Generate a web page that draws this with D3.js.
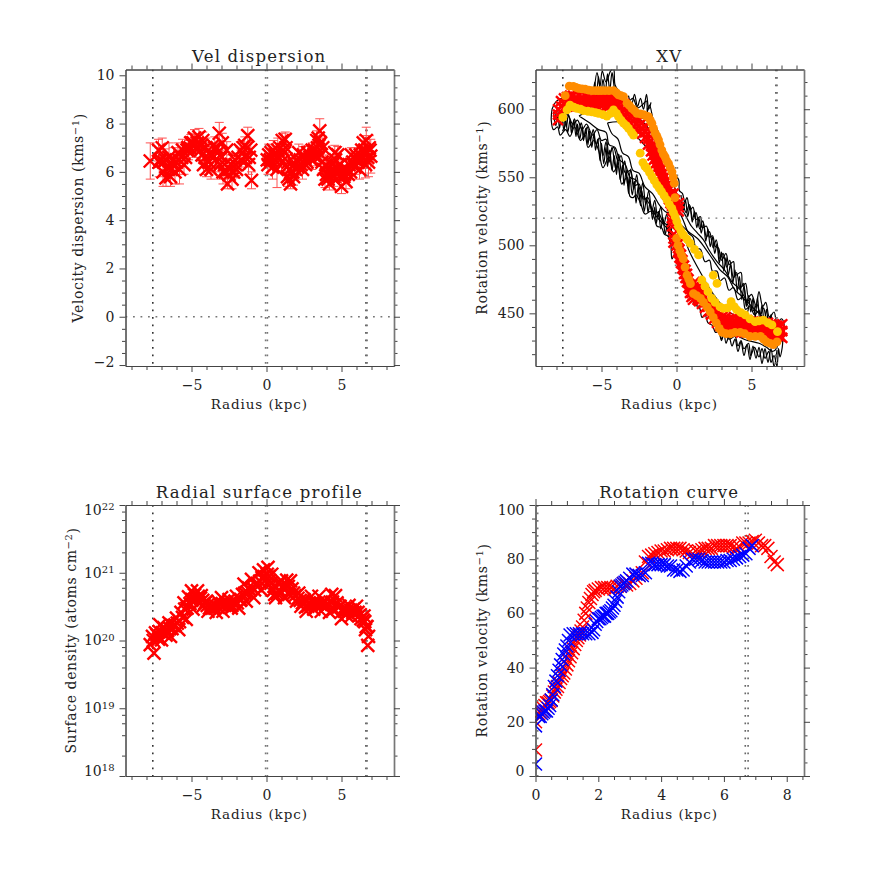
<!DOCTYPE html>
<html>
<head>
<meta charset="utf-8">
<script src="https://cdn.jsdelivr.net/npm/d3@7"></script>
<style>
  html, body { margin: 0; background: #fff; }
  text { font-family: "DejaVu Serif", serif; fill: #222; }
  .tick line, .domain { stroke: #444; }
</style>
</head>
<body>
<svg width="872" height="872"></svg>
<script>
// vel dispersion
const dispRadius = [-7.75,-7.2,-7.15,-6.95,-6.9,-6.75,-6.7,-6.5,-6.4,-6.2,-6.1,-5.9,-5.8,-5.6,-5.5,-5.3,-5.2,-5.05,-5,-4.8,-4.7,-4.5,-4.4,-4.25,-4.2,-4.05,-4,-3.75,-3.7,-3.45,-3.4,-3.15,-3.1,-2.95,-2.9,-2.65,-2.6,-2.35,-2.3,-2.05,-2,-1.75,-1.7,-1.45,-1.4,-1.25,-1.2,-1.05,-1,
  0.1,0.15,0.4,0.45,0.7,0.75,1,1.05,1.2,1.25,1.4,1.45,1.6,1.65,1.8,1.85,2.1,2.15,2.4,2.45,2.7,2.75,3,3.05,3.3,3.35,3.5,3.55,3.7,3.75,3.9,3.95,4.2,4.25,4.5,4.55,4.7,4.75,5,5.05,5.3,5.35,5.6,5.65,5.9,5.95,6.2,6.25,6.4,6.45,6.6,6.65,6.8,6.85,6.95];
const dispValue = [6.45,6.9,6.4,7,6,6.5,5.75,6.6,5.8,6.5,6,6.8,6.1,6.9,6.3,6.9,6.9,7.2,7.2,7.4,7,7.45,6.9,7.3,6.3,7,6.1,6.7,6.1,7,6.5,7.6,6.3,7.2,6,6.9,5.5,6.3,5.7,6.3,6.1,6.9,6.5,7.1,6.6,7.5,6.3,6.9,5.65,
  6.3,6.7,6.2,6.9,6.1,6.9,6.4,7.3,6.8,7.35,5.8,6.4,5.5,6,5.8,6.3,6.2,6.8,6.1,6.7,6.4,6.8,6.5,6.9,6.6,7.3,7.1,7.7,6.4,7,5.7,6.3,5.5,6,5.8,6.8,6.2,6.7,5.4,6.1,5.6,6.1,6,6.7,6.2,6.7,6.1,6.7,6.6,7.2,6.3,7.3,6.4,7,6.65];
const dispError = [0.75,0.45,0.6,0.4,0.6,0.45,0.35,0.6,0.4,0.5,0.5,0.4,0.6,0.45,0.4,0.3,0.4,0.35,0.4,0.35,0.4,0.35,0.45,0.35,0.4,0.4,0.3,0.5,0.4,0.45,0.5,0.45,0.6,0.4,0.5,0.35,0.2,0.4,0.4,0.45,0.35,0.35,0.4,0.35,0.4,0.35,0.4,0.35,0.35,
  0.4,0.45,0.5,0.4,0.75,0.5,0.35,0.3,0.35,0.3,0.4,0.4,0.2,0.3,0.35,0.4,0.35,0.35,0.4,0.35,0.3,0.3,0.4,0.3,0.35,0.4,0.4,0.5,0.45,0.4,0.35,0.4,0.25,0.35,0.4,0.3,0.4,0.35,0.3,0.35,0.3,0.4,0.3,0.3,0.3,0.3,0.4,0.3,0.45,0.3,0.55,0.55,0.6,0.5,0.7];
const dispMidRadius = [-7.1,-6.85,-6.6,-6.35,-6.25,-6,-5.85,-5.65,-5.4,-5.25,-5.1,-4.9,-4.6,-4.35,-4.3,-4.1,-3.85,-3.6,-3.55,-3.3,-3.25,-3,-2.8,-2.75,-2.5,-2.45,-2.2,-2.1,-1.9,-1.6,-1.55,-1.3,-1.15,
  0.05,0.25,0.3,0.55,0.6,0.85,0.9,1.1,1.3,1.35,1.5,1.55,1.75,1.95,2,2.25,2.3,2.55,2.6,2.9,3.15,3.2,3.4,3.45,3.6,3.65,3.8,4,4.1,4.35,4.4,4.6,4.65,4.85,4.9,5.15,5.2,5.45,5.5,5.75,5.8,6.05,6.1,6.3,6.35,6.5,6.55,6.7,6.75,6.9];
const dispMidValue = [6.5,6.4,6.2,6.1,6.3,6.4,6.5,6.6,6.6,7,7,7.2,7.2,7.1,6.7,6.6,6.4,6.7,7.1,7,6.8,6.6,6.3,6,5.9,6.1,6,6.5,6.6,6.8,7,7,6.6,
  6.5,6.5,6.8,6.5,6.7,6.6,7,6.9,7,6.2,5.7,6.1,6,6.1,6.5,6.5,6.3,6.5,6.3,6.6,6.7,6.9,7,7.4,7.2,6.7,6.1,5.9,5.7,5.9,6.3,6.5,6,5.8,6.3,5.8,5.9,5.9,6.3,6.4,6.3,6.5,6.4,6.5,6.9,6.8,6.9,6.8,6.6,6.9];

// surface density, units of 1e20 atoms/cm2
const surfRadius = [-7.75,-7.6,-7.5,-7.4,-7.2,-7.1,-7,-6.85,-6.7,-6.5,-6.4,-6.2,-6,-5.85,-5.7,-5.5,-5.35,-5.2,-5,-4.9,-4.8,-4.6,-4.5,-4.35,-4.2,-4,-3.9,-3.7,-3.5,-3.35,-3.2,-3,-2.9,-2.7,-2.5,-2.35,-2.2,-2,-1.85,-1.7,-1.5,-1.35,-1.2,-1,-0.85,-0.7,-0.5,-0.35,-0.2,-0.1,
  0.1,0.2,0.35,0.5,0.6,0.75,0.9,1,1.2,1.35,1.5,1.6,1.8,2,2.15,2.3,2.5,2.65,2.85,3,3.15,3.3,3.5,3.65,3.85,4,4.2,4.35,4.5,4.6,4.8,5,5.15,5.3,5.5,5.65,5.8,6,6.15,6.3,6.5,6.6,6.7,6.75,6.8,
  -7.55,-7.3,-7.15,-6.95,-6.75,-6.6,-6.45,-6.3,-6.1,-5.95,-5.8,-5.6,-5.45,-5.3,-5.1,-4.95,-4.7,-4.55,-4.4,-4.25,-4.1,-3.95,-3.8,-3.6,-3.45,-3.25,-3.1,-2.95,-2.8,-2.6,-2.45,-2.3,-2.1,-1.95,-1.75,-1.6,-1.45,-1.3,-1.1,-0.95,-0.8,-0.6,-0.45,-0.3,-0.15,0.05,
  0.15,0.3,0.45,0.55,0.7,0.85,1.1,1.25,1.45,1.7,1.9,2.1,2.25,2.4,2.6,2.75,2.95,3.1,3.25,3.4,3.6,3.75,3.95,4.1,4.25,4.4,4.7,4.9,5.05,5.2,5.4,5.6,5.75,5.9,6.1,6.25,6.45,6.55,6.65];
const surfDensity = [0.87,1.15,0.65,1.3,1.05,1.7,1.02,1.55,1.2,1.82,1.15,1.65,2.14,1.45,2.6,3.6,2.05,4.4,5.4,2.9,4.7,5.4,3.63,4.6,3.3,3.8,2.7,3.3,3.4,2.6,3.7,4.3,2.7,3.5,4,3,3.6,4.5,3,4,6.8,3.8,6,8,4.3,6.5,10,5.6,11,7.6,
  12,7.8,9.5,6.3,4.3,7,5.4,7.6,4.3,7.8,4.8,7.6,5,3.8,5,3.2,4,2.7,3.6,4.5,2.9,3.5,4.5,2.7,3.8,3.2,2.6,4.8,2.9,4.6,3.1,2.1,3,2.4,3.3,2.3,2.9,3.2,2.3,2.1,2.3,1.45,1.6,0.85,1.15,
  1,1.2,1.35,1.3,1.4,1.4,1.5,1.5,1.7,1.8,1.9,2.2,2.9,3,3.5,4,4,4.5,4.2,3.9,3.6,3.3,3,3,3,3.1,3.4,3.5,3.3,3.2,3.4,3.3,3.8,3.6,3.9,4.8,5,5.2,5.5,6,5.6,7,7.5,8.5,8.8,9.5,
  8.8,7,5.5,4.8,5,5.5,6.4,6,6.3,5.8,4.6,4.2,3.9,3.6,3.1,3.2,3.4,3.6,3.6,3.5,3.4,3.4,3.3,3.5,3.7,3.7,3.6,3.2,2.7,2.7,2.8,2.8,2.6,2.6,2.6,2.4,2,1.9,1.6];

// rotation curve, receding and approaching side
const recRadius = [0,0,0.1,0.15,0.2,0.25,0.3,0.35,0.4,0.45,0.5,0.55,0.6,0.65,0.7,0.75,0.8,0.85,0.9,0.95,1,1.05,1.1,1.15,1.2,1.25,1.3,1.35,1.4,1.45,1.5,1.55,1.6,1.65,1.7,1.75,1.8,1.85,1.9,2,2.1,2.2,2.3,2.4,2.5,2.6,2.7,2.8,2.9,3,3.1,3.2,3.3,3.4,3.5,3.6,3.7,3.8,3.9,4,4.1,4.2,4.3,4.4,4.5,4.6,4.7,4.8,4.9,5,5.1,5.2,5.3,5.4,5.5,5.6,5.7,5.8,5.9,6,6.1,6.2,6.3,6.4,6.5,6.6,6.7,6.8,6.9,7,7.1,7.2,7.3,7.4,7.5,7.6,7.7];
const recSpeed = [9.6,20,23,23.5,24,25,26,27,27,27.5,28,29.5,31,32,33,34.5,36,37,38,39.5,41,42.5,44,45.5,47,48.5,50,51,52,53.5,55,57.5,60,62,64,65.5,67,68,68.5,69,69.5,69.5,69.5,69.5,69,70,70,71,70.5,71,72,73,74,75,79,81,81.5,82,82.5,83,83,83.5,84,84,84,84,83.5,83,82.5,82,83,83,83.5,84,84,84,85,85,85,85,85,85,84.5,84,84.5,86,86,86,86.5,87,86,85,85,84,81,79,78];
const appRadius = [0,0,0.1,0.15,0.2,0.25,0.3,0.35,0.4,0.45,0.5,0.55,0.6,0.65,0.7,0.75,0.8,0.85,0.9,0.95,1,1.05,1.1,1.2,1.3,1.4,1.5,1.6,1.7,1.8,1.85,1.9,1.95,2,2.05,2.1,2.15,2.2,2.25,2.3,2.35,2.4,2.45,2.5,2.55,2.6,2.65,2.7,2.75,2.8,2.85,2.9,3,3.1,3.2,3.3,3.4,3.5,3.6,3.7,3.8,3.9,4,4.1,4.2,4.3,4.4,4.5,4.6,4.7,4.8,4.9,5,5.1,5.2,5.3,5.4,5.5,5.6,5.7,5.8,5.9,6,6.1,6.2,6.3,6.4,6.5,6.6,6.7,6.8,6.9];
const appSpeed = [4.4,18.5,22,22,23,23.5,24,24,25,26,28,30,33,35,37,39,41,43,45,46.5,48,50,52,52.5,52.5,52.5,52.5,52.5,52.5,53,54,56,57,58,58,58.5,59,59,60,60,60.5,61,62,63,64.5,66,68,70,70.5,71,71.5,72,73,74.5,74.5,74,74,75,78.5,78.5,78,78,78,78,77.5,77.5,76,76,75.5,76,77.5,79,80,80,80,79.5,79,79,79,79,79,79,79,79.5,79.5,80,80.5,81,81.5,82,84,85];

// XV peak tracks
const redRadius = [-7.9,-7.7,-7.5,-7.3,-7.1,-6.9,-6.7,-6.5,-6.3,-6.1,-5.9,-5.7,-5.5,-5.3,-5.1,-4.9,-4.7,-4.5,-4.3,-4.1,-3.9,-3.7,-3.5,-3.3,-3.1,-2.9,-2.7,-2.5,-2.3,-2.1,-1.9,-1.7,-1.6,-1.5,-1.4,-1.3,-1.2,-1.1,-1,-0.9,-0.8,-0.7,-0.6,-0.5,-0.4,-0.3,-0.2,-0.1,0.15,-0.3,-0.2,
  0,0.1,0.2,0.3,0.4,0.5,0.6,0.7,0.8,0.9,1,1.1,1.2,1.3,1.4,1.5,1.7,1.9,2.1,2.3,2.5,2.7,2.9,3.1,3.3,3.5,3.7,3.9,4.1,4.3,4.5,4.7,4.9,5.1,5.3,5.5,5.7,5.9,6.1,6.3,6.5,6.7,6.9,7.05];
const redUpper = [600,606,608,609,610,610,609,610,609,610,610,609,610,609,609,609,609,610,610,609,607,606,604,601,598,595,593,592,590,587,582,577,574,571,568,565,562,559,556,553,550,547,544,541,538,535,538,533,531,520,508,
  506,501,497,493,489,485,482,479,475,471,468,466,473,471,469,468,465,462,459,456,454,451,449,448,447,446,446,445,445,445,445,445,444,444,444,443,443,443,443,442,441,441,441,442];
const redMiddle = [596,602,604,605,606,606,606,606,605,606,606,606,606,605,606,606,606,606,606,605,603,602,600,597,594,591,589,588,586,583,578,573,570,567,564,561,558,555,552,549,546,543,540,537,534,532,534,530,528,517,505,
  503,498,494,490,486,482,479,476,472,468,465,463,468,466,464,463,461,458,455,452,450,447,445,443,442,441,441,441,441,440,440,440,440,439,439,439,439,439,438,438,437,437,437,437];
const redLower = [592,598,601,602,602,603,602,603,602,602,602,603,602,602,603,603,602,602,603,602,599,598,596,593,590,587,585,584,582,579,574,569,566,563,560,557,554,551,549,546,543,540,537,534,531,529,530,526,525,514,502,
  500,495,491,487,483,479,476,473,469,465,462,460,464,462,460,459,457,454,451,449,446,443,441,439,438,437,437,437,437,436,436,436,436,435,435,435,435,435,434,434,433,433,433,432];

const orangeRadius = [-7.42,-7.15,-6.87,-6.7,-6.53,-6.3,-6.09,-5.85,-5.64,-5.4,-5.2,-5,-4.76,-4.5,-4.2,-4,-3.87,-3.7,-3.53,-3.3,-3.15,-2.98,-2.8,-2.64,-2.4,-2.2,-2,-1.87,-1.75,-1.64,-1.53,-1.42,-1.3,-1.2,-1.1,-0.98,-0.87,-0.76,-0.65,-0.53,-0.42,-0.3,-0.22,-0.15,-0.1,
  0,0.1,0.22,0.33,0.45,0.57,0.7,0.82,0.93,1.13,1.35,1.6,1.8,2.05,2.25,2.45,2.65,2.85,3.05,3.3,3.6,3.9,4.25,4.55,4.9,5.25,5.6,5.8,6,6.25,6.45,6.7];
const orangeSpeed = [610,617,616.7,616,615.4,615,614.7,614,613.7,613.7,613.7,613.7,613.7,613.7,613.7,612,610.5,610,609.3,604.4,603,600.7,599,597,596.5,596,595,594.6,592,589.7,586,582.4,580,577.5,574,570,567,565,562,560,557,554,550,545.6,535,
  505,500,496,493,490,484,478,475,471.8,464.5,463,461,458,454.5,451,447,443,439,436,435,435,436,436,435,433,433,433,431,429,428,427,429];
const yellowRadius = [-7.58,-7.3,-7.1,-6.85,-6.64,-6.4,-6.2,-5.9,-5.64,-5.4,-5.2,-4.9,-4.64,-4.4,-4.2,-4,-3.87,-3.7,-3.53,-3.35,-3.2,-3,-2.87,-2.42,-2.24,-2.1,-1.98,-1.8,-1.64,-1.48,-1.31,-1.15,-1,-0.82,-0.64,-0.48,-0.31,-0.2,-0.09,0.02,0.13,0.3,0.47,0.7,0.91,1.2,1.47,
  1.69,1.9,2.1,2.35,2.58,2.9,3.13,3.4,3.64,3.85,4.02,4.3,4.58,4.9,5.24,5.5,5.8,6.1,6.36,6.73,2.45,2.7];
const yellowSpeed = [594,599.5,603,601.5,600.7,600,599,598.5,598,597.5,597,596,595,597,599.5,597,594.6,592,589.7,588,586,583,581,567.7,560.8,558,556.6,553.5,550.5,547.5,544.4,542,539.5,536.5,533.4,530,527.2,524,521,517.5,513.8,510.5,507.6,504.5,501.5,497,492.9,
  474.5,470,465.9,461,458,454.7,453.7,454,458.6,455,452.5,450.5,448.8,446,443.9,444.5,445,443,441.5,436.6,478,472];

// XV contours
const contourOuter = [[-8.3,600],[-8,606],[-7.6,608],[-5.6,602],[-5.5,612],[-5.3,627],[-5.1,617],[-4.95,628],[-4.7,620],[-4.4,628],[-4.2,630],[-4.1,618],[-3.9,614],[-3.6,610],[-3.2,606],[-2.9,608],[-2.6,601],[-2.3,603],[-2,606],[-1.95,598],[-1.8,603],[-1.5,590],[-1.2,583],[-1,575],[-0.5,560],[-0.1,552],[0.15,548],[0.2,540],[0.4,538],[0.55,532],[0.7,535],[0.9,526],[1.1,528],[1.3,519],[1.6,521],[1.7,513],[2,514],[2.2,506],[2.4,507],[2.6,499],[2.8,498],[3,489],[3.3,494],[3.5,486],[3.8,488],[3.9,478],[4.3,480],[4.4,470],[4.6,472],[4.8,462],[5,464],[5.3,456],[5.5,466],[5.75,455],[5.95,458],[6.2,447],[6.5,451],[6.7,443],[7,446],[7.2,440],[7.1,432],
  [7.05,425],[6.9,418],[6.8,424],[6.7,411],[6.5,419],[6.3,414],[6.15,422],[5.9,417],[5.7,424],[5.5,418],[5.2,425],[4.95,419],[4.8,428],[4.5,424],[4.3,430],[4.1,426],[3.9,433],[3.5,431],[3.2,436],[3,430],[2.8,437],[2.6,436],[2.4,441],[2.1,443],[1.9,449],[1.7,447],[1.5,455],[1.2,456],[1,463],[0.8,466],[0.6,472],[0.4,481],[0.2,486],[0.15,492],[-0.1,494],[-0.3,490],[-0.4,503],[-0.6,507],[-0.8,508],[-1,513],[-1.3,514],[-1.5,521],[-1.7,525],[-2.1,523],[-2.4,531],[-2.7,537],[-2.9,535],[-3.1,536],[-3.3,550],[-3.65,545],[-3.9,558],[-4.2,554],[-4.5,565],[-4.9,557],[-5.2,570],[-5.5,577],[-5.9,572],[-6.1,581],[-6.4,577],[-6.8,587],[-7.1,580],[-7.4,585],[-7.75,581],[-7.93,587],[-8.2,585],[-8.35,592],[-8.3,600]];
const contourThird = [[-7.9,596],[-7.5,598],[-7.2,595],[-6.9,589],[-6.6,592],[-6.3,585],[-6,589],[-5.6,581],[-5.3,585],[-5,577],[-4.7,578],[-4.5,567],[-4.2,572],[-3.9,562],[-3.7,566],[-3.4,553],[-3.1,555],[-2.8,544],[-2.5,545],[-2.2,534],[-1.9,535],[-1.6,525],[-1.2,524],[-0.9,517],[-0.5,514],[-0.15,505],[0.1,497],[0.5,480],[1,470],[1.8,455],[2.5,448],[3.5,438],[4.5,431],[5.5,428],[6,425],[6.4,422],[6.7,425],[6.7,438],[6.5,443],[6.2,441],[6,447],[5.7,445],[5.5,452],[5.2,449],[4.9,455],[4.6,453],[4.4,462],[4.1,460],[3.8,469],[3.5,467],[3.2,476],[2.9,474],[2.7,481],[2.4,481],[2.2,489],[1.9,488],[1.6,497],[1.3,498],[1.1,506],[0.8,509],[0.5,517],[0.2,525],[0,536],[-0.3,550],[-1,570],[-1.9,592],[-2.6,594],[-3.5,603],[-4.2,610],[-7.9,596]];
const contourFourth = [[-6.5,595],[-5.8,590],[-5.2,585],[-4.7,583],[-4.5,574],[-4.1,572],[-3.8,563],[-3.4,559],[-3.1,550],[-2.7,548],[-2.3,537],[-1.9,532],[-1.4,522],[-1,517],[-0.6,512],[-0.2,505],[0.2,490],[1,473],[2,458],[3,446],[4,439],[5,436],[6,433],[6.5,437],[6.2,442],[5.7,448],[5.2,453],[4.7,459],[4.2,468],[3.7,473],[3.2,482],[2.7,488],[2.2,496],[1.8,504],[1.4,509],[1,514],[0.6,522],[0.3,528],[-0.3,548],[-1,566],[-2,588],[-3,596],[-4.5,604],[-6.5,595]];
const contourLeftLobe = [[-4.6,590],[-4.3,582],[-3.9,578],[-3.6,568],[-3.2,565],[-2.9,555],[-2.5,553],[-2.1,543],[-1.6,538],[-1.1,529],[-0.6,524],[-0.2,530],[-0.8,545],[-1.5,565],[-2.5,578],[-3.5,590],[-4.6,590]];
const contourRightLobe = [[0.3,515],[0.8,510],[1.4,505],[1.9,498],[2.4,490],[2.9,482],[3.4,477],[3.9,467],[4.4,462],[4.8,454],[4.4,447],[3.4,452],[2.4,465],[1.5,482],[0.8,497],[0.3,515]];
const squiggleLowerA = [[-8.2,598],[-8.05,588],[-7.9,596],[-7.8,586],[-7.65,595],[-7.5,584],[-7.4,593],[-7.25,583],[-7.1,592],[-7,582],[-6.85,592],[-6.7,580],[-6.6,589],[-6.45,578],[-6.3,587],[-6.2,577],[-6.05,586],[-5.9,574],[-5.8,584],[-5.65,572],[-5.5,582],[-5.4,570],[-5.25,578],[-5.1,562],[-5,575],[-4.85,560],[-4.7,572],[-4.6,558],[-4.45,570],[-4.3,555],[-4.15,566],[-4,552],[-3.9,563],[-3.75,548],[-3.6,559],[-3.5,544],[-3.35,555],[-3.2,538],[-3.1,550],[-2.95,537],[-2.8,547],[-2.7,531],[-2.55,543],[-2.4,529],[-2.3,540],[-2.15,525],[-2,535],[-1.9,524],[-1.75,532],[-1.6,519],[-1.45,528],[-1.35,516],[-1.2,525],[-1.05,512],[-0.9,520],[-0.75,508],[-0.6,516],[-0.45,503],[-0.3,510]];
const squiggleLowerB = [[-8.1,592],[-7.95,600],[-7.75,590],[-7.6,598],[-7.35,587],[-7.2,596],[-6.95,586],[-6.8,593],[-6.55,583],[-6.35,590],[-6.15,580],[-5.95,587],[-5.75,577],[-5.55,585],[-5.35,574],[-5.15,579],[-4.9,566],[-4.7,576],[-4.5,561],[-4.3,572],[-4.05,556],[-3.85,567],[-3.65,552],[-3.45,562],[-3.25,544],[-3.05,556],[-2.85,541],[-2.65,552],[-2.45,534],[-2.25,546],[-2.05,530],[-1.85,540],[-1.65,525],[-1.45,533],[-1.25,520],[-1.05,528],[-0.85,515],[-0.65,523],[-0.45,509],[-0.25,515]];
const squiggleUpperA = [[0.3,537],[0.45,526],[0.6,533],[0.75,521],[0.9,529],[1.05,517],[1.2,525],[1.35,513],[1.5,520],[1.65,509],[1.8,516],[1.95,503],[2.1,512],[2.25,499],[2.4,506],[2.55,494],[2.7,501],[2.85,487],[3,495],[3.15,481],[3.3,491],[3.45,478],[3.6,486],[3.75,472],[3.9,482],[4.05,466],[4.2,477],[4.35,460],[4.5,470],[4.65,455],[4.8,463],[4.95,451],[5.1,461],[5.25,447],[5.4,462],[5.55,445],[5.7,456],[5.85,443],[6,453],[6.15,440],[6.3,449],[6.45,436],[6.6,446],[6.75,434],[6.9,444],[7.05,432]];
const squiggleUpperB = [[0.4,532],[0.65,524],[0.85,530],[1.1,519],[1.3,524],[1.55,512],[1.75,518],[2,506],[2.2,510],[2.45,498],[2.65,504],[2.9,490],[3.1,494],[3.35,484],[3.55,489],[3.8,476],[4,480],[4.25,468],[4.45,472],[4.7,458],[4.9,461],[5.15,452],[5.35,457],[5.6,449],[5.8,454],[6.05,444],[6.25,448],[6.5,440],[6.7,444],[6.95,436]];
const squiggleTail = [[2.8,440],[3,431],[3.15,438],[3.3,428],[3.5,433],[3.7,426],[3.9,431],[4.1,422],[4.3,429],[4.5,419],[4.7,427],[4.9,416],[5.1,426],[5.3,417],[5.5,425],[5.7,413],[5.9,424],[6.1,414],[6.3,424],[6.5,411],[6.7,423]];
const squiggleTop = [[-5.6,606],[-5.45,620],[-5.35,608],[-5.2,624],[-5.05,610],[-4.9,622],[-4.75,612],[-4.6,626],[-4.45,614],[-4.3,627],[-4.15,615]];
const squiggleMid = [[-3.2,610],[-3,603],[-2.8,611],[-2.6,602],[-2.4,608],[-2.2,600],[-2,611],[-1.85,600],[-1.7,605]];
const xvContours = [contourOuter, contourThird, contourFourth, contourLeftLobe, contourRightLobe, squiggleLowerA, squiggleLowerB, squiggleUpperA, squiggleUpperB, squiggleTail, squiggleTop, squiggleMid];

const dotRadii = [[-7.58, '#333'], [-0.06, '#777'], [0.06, '#777'], [6.62, '#666'], [6.7, '#666']];
const curveDots = [[0.07, '#777'], [6.68, '#666'], [6.77, '#666']];
const radiusMajor = [-5, 0, 5];
const radiusMinor = [-9,-8,-7,-6,-4,-3,-2,-1,1,2,3,4,6,7,8];

const svg = d3.select('svg');
const xLine = 'M-1,-1L1,1M-1,1L1,-1';

// one IDL style frame, ticks pointing out on all four sides
const makePanel = (o) => {
  const { left, top, right, bottom, x, y, id } = o;
  x.range([left, right]);
  y.range([bottom, top]);
  const g = svg.append('g');
  g.append('clipPath').attr('id', id).append('rect')
    .attr('x', left).attr('y', top)
    .attr('width', right - left).attr('height', bottom - top);
  const plot = g.append('g').attr('clip-path', `url(#${id})`);
  o.plot = plot;
  o.frame = g;
  return o;
};

const drawFrame = (o) => {
  const { left, top, right, bottom, x, y, frame } = o;
  const addAxis = (gen, scale, ticks, size, shift, fmt) => {
    const a = frame.append('g').attr('transform', shift)
      .call(gen(scale).tickValues(ticks).tickSize(size).tickSizeOuter(0).tickFormat(fmt || (() => '')).tickPadding(5));
    a.selectAll('text').style('font-size', '14px');
    return a;
  };
  const bt = `translate(0,${bottom})`, tp = `translate(0,${top})`;
  const lf = `translate(${left},0)`, rt = `translate(${right},0)`;
  const signed = d => String(d).replace('-', '\u2212');
  addAxis(d3.axisBottom, x, o.xMinor, 4, bt);
  addAxis(d3.axisTop, x, o.xMinor, 4, tp);
  addAxis(d3.axisLeft, y, o.yMinor, 3.5, lf);
  addAxis(d3.axisRight, y, o.yMinor, 3.5, rt);
  addAxis(d3.axisBottom, x, o.xMajor, 6, bt, signed)
    .selectAll('text').attr('dy', '0.95em');
  addAxis(d3.axisTop, x, o.xMajor, 6, tp);
  const ya = addAxis(d3.axisLeft, y, o.yMajor, 6, lf, signed);
  const ra = addAxis(d3.axisRight, y, o.yMajor, 6, rt);
  ra.select('.domain').style('stroke', '#777').style('stroke-width', 1.7);
  if (o.yPower) {
    ya.selectAll('text').text('').each(function (d) {
      const t = d3.select(this);
      t.append('tspan').text('10');
      t.append('tspan').attr('dy', '-0.45em').style('font-size', '10px').text(Math.round(Math.log10(d)));
    });
  }
  // first and last labels are pulled in from the ends of the axis
  if (o.yNudge) {
    ya.selectAll('text').attr('transform', d => `translate(0,${o.yNudge[d] || 0})`);
  }
  frame.append('text').attr('x', (left + right) / 2 - 0.5).attr('y', o.titleY)
    .attr('text-anchor', 'middle').style('font-size', '16.5px').style('letter-spacing', '1.2px').text(o.title);
  frame.append('text').attr('x', (left + right) / 2 - 0.5).attr('y', bottom + 43)
    .attr('text-anchor', 'middle').style('font-size', '13.5px').style('letter-spacing', '0.9px').text('Radius (kpc)');
  const yl = frame.append('text').attr('text-anchor', 'middle').style('font-size', '14px').style('letter-spacing', '0.6px')
    .attr('transform', `translate(${o.yLabelX},${(top + bottom) / 2}) rotate(-90)`);
  yl.append('tspan').text(o.yLabel);
  yl.append('tspan').attr('dy', '-0.45em').style('font-size', '10px').text(o.yLabelSup);
  yl.append('tspan').attr('dy', '0.45em').text(')');
};

const drawDots = (o, list) => {
  o.plot.selectAll(null).data(list).enter().append('line')
    .attr('x1', d => o.x(d[0])).attr('x2', d => o.x(d[0]))
    .attr('y1', o.top).attr('y2', o.bottom)
    .attr('stroke', d => d[1]).attr('stroke-width', 1.6)
    .attr('stroke-dasharray', '1.8 5.7');
};

const drawHorizontal = (o, value) => {
  o.plot.append('line')
    .attr('x1', o.left).attr('x2', o.right)
    .attr('y1', o.y(value)).attr('y2', o.y(value))
    .attr('stroke', '#777').attr('stroke-width', 1.3)
    .attr('stroke-dasharray', '1.8 5.7');
};

const drawCrosses = (o, xs, ys, color, size, width) => {
  o.plot.append('g').selectAll('path').data(xs).enter().append('path')
    .attr('d', xLine)
    .attr('transform', (d, i) => `translate(${o.x(d)},${o.y(ys[i])}) scale(${size})`)
    .attr('fill', 'none').attr('stroke', color)
    .attr('stroke-width', width).attr('vector-effect', 'non-scaling-stroke');
};

const drawCircles = (o, xs, ys, color, r) => {
  o.plot.append('g').selectAll('circle').data(xs).enter().append('circle')
    .attr('cx', d => o.x(d)).attr('cy', (d, i) => o.y(ys[i]))
    .attr('r', r).attr('fill', color);
};

// top left
const velPanel = makePanel({
  id: 'p1', left: 125.5, right: 394, top: 69.5, bottom: 366,
  x: d3.scaleLinear().domain([-9.4, 8.5]), y: d3.scaleLinear().domain([-2.04, 10.24]),
  xMajor: radiusMajor, xMinor: radiusMinor,
  yMajor: [-2, 0, 2, 4, 6, 8, 10],
  yMinor: [-1.5,-1,-0.5,0.5,1,1.5,2.5,3,3.5,4.5,5,5.5,6.5,7,7.5,8.5,9,9.5],
  yNudge: { '-2': -3 },
  title: 'Vel dispersion', titleY: 62, yLabel: 'Velocity dispersion (kms', yLabelSup: '\u22121', yLabelX: 83
});
drawDots(velPanel, dotRadii);
drawHorizontal(velPanel, 0);
velPanel.plot.append('g').selectAll('path').data(dispRadius).enter().append('path')
  .attr('d', (d, i) => {
    const px = velPanel.x(d);
    const hi = velPanel.y(dispValue[i] + dispError[i]);
    const lo = velPanel.y(dispValue[i] - dispError[i]);
    return `M${px},${lo}V${hi}M${px - 4.5},${hi}h9M${px - 4.5},${lo}h9`;
  })
  .attr('fill', 'none').attr('stroke', '#ff5050').attr('stroke-width', 1);
drawCrosses(velPanel, dispRadius, dispValue, '#f00', 6.5, 2.4);
drawCrosses(velPanel, dispMidRadius, dispMidValue, '#f00', 6.5, 2.4);
drawFrame(velPanel);

// top right
const xvPanel = makePanel({
  id: 'p2', left: 535.5, right: 804, top: 69.5, bottom: 366,
  x: d3.scaleLinear().domain([-9.4, 8.5]), y: d3.scaleLinear().domain([411.3, 629.2]),
  xMajor: radiusMajor, xMinor: radiusMinor,
  yMajor: [450, 500, 550, 600],
  yMinor: [420,430,440,460,470,480,490,510,520,530,540,560,570,580,590,610,620],
  title: 'XV', titleY: 62, yLabel: 'Rotation velocity (kms', yLabelSup: '\u22121', yLabelX: 487
});
const contourLine = d3.line().x(d => xvPanel.x(d[0])).y(d => xvPanel.y(d[1])).curve(d3.curveCatmullRom);
xvPanel.plot.append('g').selectAll('path').data(xvContours).enter().append('path')
  .attr('d', contourLine).attr('fill', 'none').attr('stroke', '#000').attr('stroke-width', 1.2);
drawDots(xvPanel, dotRadii);
drawHorizontal(xvPanel, 520);
drawCrosses(xvPanel, redRadius, redUpper, '#f00', 5, 2.4);
drawCrosses(xvPanel, redRadius, redMiddle, '#f00', 5, 2.4);
drawCrosses(xvPanel, redRadius, redLower, '#f00', 5, 2.4);
drawCircles(xvPanel, orangeRadius, orangeSpeed, '#ff8c00', 4.4);
drawCircles(xvPanel, yellowRadius, yellowSpeed, '#ffc800', 4.4);
drawFrame(xvPanel);

// bottom left
const decades = [1e18, 1e19, 1e20, 1e21, 1e22];
const surfPanel = makePanel({
  id: 'p3', left: 125.5, right: 394, top: 505, bottom: 776,
  x: d3.scaleLinear().domain([-9.4, 8.5]), y: d3.scaleLog().domain([1e18, 1e22]),
  xMajor: radiusMajor, xMinor: radiusMinor,
  yMajor: decades,
  yMinor: [2e18,4e18,6e18,8e18,2e19,4e19,6e19,8e19,2e20,4e20,6e20,8e20,2e21,4e21,6e21,8e21],
  yPower: true, yNudge: { 1e18: -5, 1e22: 5 },
  title: 'Radial surface profile', titleY: 498, yLabel: 'Surface density (atoms cm', yLabelSup: '\u22122', yLabelX: 76
});
drawDots(surfPanel, dotRadii);
drawCrosses(surfPanel, surfRadius, surfDensity.map(v => v * 1e20), '#f00', 6.5, 2.4);
drawFrame(surfPanel);

// bottom right
const curvePanel = makePanel({
  id: 'p4', left: 535.5, right: 804, top: 505, bottom: 776,
  x: d3.scaleLinear().domain([0, 8.55]), y: d3.scaleLinear().domain([0, 100]),
  xMajor: [0, 2, 4, 6, 8], xMinor: [0.5,1,1.5,2.5,3,3.5,4.5,5,5.5,6.5,7,7.5,8.5],
  yMajor: [0, 20, 40, 60, 80, 100], yMinor: [5,10,15,25,30,35,45,50,55,65,70,75,85,90,95],
  yNudge: { 0: -5, 100: 5 },
  title: 'Rotation curve', titleY: 498, yLabel: 'Rotation velocity (kms', yLabelSup: '\u22121', yLabelX: 487
});
drawDots(curvePanel, curveDots);
drawCrosses(curvePanel, recRadius, recSpeed, '#f00', 6.5, 1.5);
drawCrosses(curvePanel, appRadius, appSpeed, '#00f', 6.5, 1.5);
drawFrame(curvePanel);
</script>
</body>
</html>
